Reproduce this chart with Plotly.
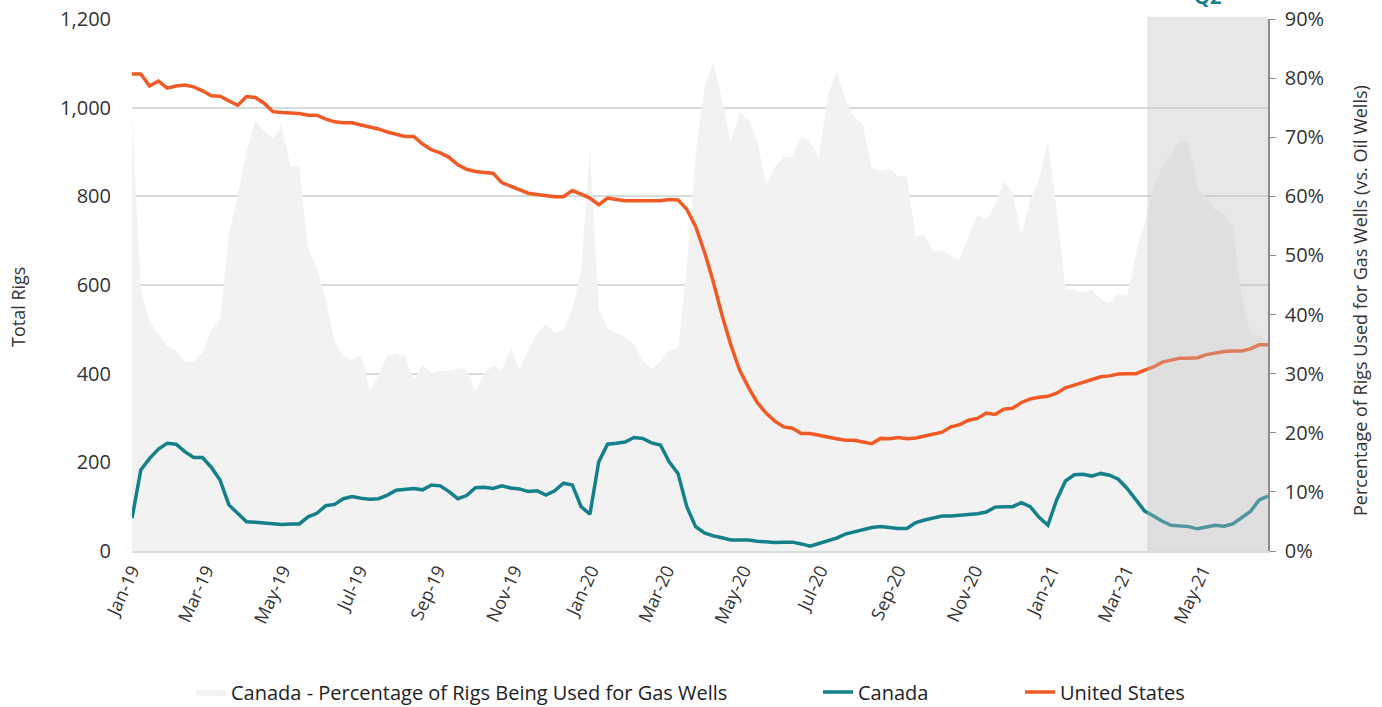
import pandas as pd
import plotly.graph_objects as go

# weekly rig counts, Jan 2019 - Jun 2021
start_date = "2019-01-04"
n_weeks = 130
dates = pd.date_range(start_date, periods=n_weeks, freq="7D")

us_rigs = [
    1076, 1076, 1049, 1060, 1044, 1049, 1051, 1047, 1038, 1027,
    1026, 1016, 1005, 1025, 1023, 1010, 991, 989, 988, 987,
    983, 983, 974, 968, 966, 966, 961, 957, 952, 945,
    941, 935, 935, 918, 905, 898, 888, 871, 861, 856,
    854, 852, 831, 823, 817, 807, 804, 802, 799, 799,
    813, 805, 796, 781, 796, 793, 790, 790, 790, 790,
    790, 793, 792, 771, 732, 675, 608, 532, 465, 408,
    369, 335, 311, 293, 280, 277, 265, 265, 262, 257,
    253, 250, 250, 246, 242, 254, 253, 256, 253, 255,
    259, 265, 268, 280, 285, 295, 299, 311, 308, 320,
    322, 335, 343, 347, 349, 356, 368, 374, 380, 388,
    393, 395, 399, 400, 400, 408, 415, 426, 430, 435,
    435, 436, 443, 447, 450, 451, 451, 456, 465, 465,
]

canada_rigs = [
    74, 183, 209, 230, 243, 241, 224, 211, 211, 189,
    160, 104, 85, 66, 65, 64, 62, 60, 61, 61,
    77, 85, 102, 105, 118, 123, 119, 117, 118, 126,
    137, 139, 141, 138, 149, 147, 134, 118, 125, 143,
    144, 141, 147, 142, 140, 134, 136, 126, 136, 153,
    149, 100, 83, 201, 241, 243, 246, 256, 254, 244,
    239, 201, 175, 100, 55, 41, 34, 30, 25, 25,
    25, 22, 20, 19, 20, 20, 16, 11, 17, 23,
    29, 38, 43, 46, 53, 55, 53, 51, 51, 64,
    70, 74, 79, 79, 81, 83, 84, 88, 99, 100,
    100, 109, 100, 76, 58, 115, 158, 172, 173, 169,
    175, 171, 162, 141, 117, 90, 79, 67, 58, 56,
    55, 50, 54, 58, 56, 61, 75, 89, 115, 124,
]

# share of Canadian rigs drilling for gas (%)
canada_gas_pct = [
    73.5, 44.2, 38.8, 36.8, 34.6, 34.0, 32.0, 32.0, 33.5, 37.4,
    39.1, 53.5, 60.2, 67.6, 72.6, 71.1, 69.8, 72.1, 65.0, 65.0,
    51.2, 47.8, 42.5, 35.4, 32.9, 32.3, 33.2, 27.2, 29.8, 33.0,
    33.4, 32.8, 28.9, 31.5, 30.1, 30.5, 30.5, 30.9, 30.6, 27.0,
    30.1, 31.3, 30.6, 34.3, 30.7, 34.0, 36.8, 38.5, 36.9, 37.3,
    40.9, 47.3, 68.1, 40.9, 37.7, 36.8, 36.3, 34.9, 32.3, 30.7,
    32.0, 34.0, 34.3, 48.0, 67.0, 78.3, 82.7, 76.3, 69.2, 74.1,
    73.0, 69.5, 61.9, 65.0, 66.6, 66.6, 70.2, 69.2, 66.7, 76.9,
    81.1, 76.3, 73.5, 72.2, 64.7, 64.3, 64.7, 63.4, 63.3, 53.2,
    53.5, 50.6, 51.0, 49.9, 49.3, 53.2, 56.8, 56.1, 58.4, 62.5,
    60.6, 53.5, 59.4, 62.8, 69.4, 57.7, 44.3, 44.2, 43.7, 44.3,
    42.6, 41.9, 43.5, 43.2, 50.4, 55.4, 61.6, 65.1, 67.0, 69.4,
    69.0, 61.1, 59.9, 57.6, 56.8, 54.6, 43.0, 36.5, 36.5, 35.4,
]

q2_start = "2021-03-21"
q2_label = "Q2"

tick_dates = pd.date_range("2019-01-01", "2021-05-01", freq="2MS") + pd.Timedelta(days=3)
tick_text = [d.strftime("%b-%y") for d in tick_dates]

TEAL = "#13808A"
ORANGE = "#F15A24"
FONT = "Open Sans, sans-serif"
W, H = 1382, 707
L, R, T, B = 132, 114, 19, 156
PW, PH = W - L - R, H - T - B

fig = go.Figure()

# area on the primary (right-hand, %) axis so the rig lines sit on top
fig.add_trace(go.Scatter(
    x=dates, y=canada_gas_pct,
    name="Canada - Percentage of Rigs Being Used for Gas Wells",
    mode="lines", line=dict(width=0, color="#F2F2F2"),
    fill="tozeroy", fillcolor="#F2F2F2",
    yaxis="y", legend="legend"
))

fig.add_trace(go.Scatter(
    x=dates, y=canada_rigs, name="Canada",
    mode="lines", line=dict(color=TEAL, width=3.5),
    yaxis="y2", legend="legend2"
))

fig.add_trace(go.Scatter(
    x=dates, y=us_rigs, name="United States",
    mode="lines", line=dict(color=ORANGE, width=3.5),
    yaxis="y2", legend="legend3"
))

# Q2 shading over everything
fig.add_shape(
    type="rect", xref="x", yref="paper",
    x0=q2_start, x1=dates[-1], y0=0, y1=1.004,
    fillcolor="#BDBDBD", opacity=0.36, line_width=0, layer="above"
)

q2_mid = pd.Timestamp(q2_start) + (dates[-1] - pd.Timestamp(q2_start)) / 2
fig.add_annotation(
    x=q2_mid, y=1.013, xref="x", yref="paper",
    text=f"<b>{q2_label}</b>", showarrow=False, yanchor="bottom",
    font=dict(size=20, color=TEAL, family=FONT)
)

# axis titles
fig.add_annotation(
    x=(18 - L) / PW, y=(H - B - 307) / PH, xref="paper", yref="paper",
    xanchor="center", yanchor="middle",
    text="Total Rigs", textangle=-90, showarrow=False,
    font=dict(size=18, color="#333333")
)
fig.add_annotation(
    x=(1360 - L) / PW, y=(H - B - 301) / PH, xref="paper", yref="paper",
    xanchor="center", yanchor="middle",
    text="Percentage of Rigs Used for Gas Wells (vs. Oil Wells)",
    textangle=-90, showarrow=False,
    font=dict(size=18, color="#333333")
)

leg = dict(orientation="h", xref="container", xanchor="left",
           yref="container", y=1 - 692 / H, yanchor="middle",
           font=dict(size=20, color="#222222"), bgcolor="rgba(0,0,0,0)")

fig.update_layout(
    width=W, height=H,
    margin=dict(l=L, r=R, t=T, b=B, autoexpand=False),
    paper_bgcolor="white", plot_bgcolor="white",
    font=dict(family=FONT, size=18, color="#333333"),
    showlegend=True,
    legend=dict(leg, x=(233 - 42) / W),
    legend2=dict(leg, x=(860 - 42) / W),
    legend3=dict(leg, x=(1062 - 42) / W),
    xaxis=dict(
        range=[dates[0], dates[-1]], automargin=False,
        tickvals=tick_dates, ticktext=tick_text, tickangle=-65,
        showgrid=False, showline=True, linecolor="#D5DDDC", linewidth=2,
        ticks="", tickfont=dict(size=18)
    ),
    yaxis2=dict(
        overlaying="y", side="left", automargin=False,
        range=[0, 1200], dtick=200, tickformat=",",
        showgrid=True, gridcolor="#D5DDDC", gridwidth=2,
        zeroline=False, showline=False, ticks="",
        ticklabelstandoff=20,
        tickfont=dict(size=20)
    ),
    yaxis=dict(
        side="right", automargin=False,
        range=[0, 90], dtick=10, ticksuffix="%",
        showgrid=False, zeroline=False,
        showline=True, linecolor="#8C8C8C", linewidth=1.5,
        ticks="outside", ticklen=6, tickcolor="#8C8C8C",
        ticklabelstandoff=5,
        tickfont=dict(size=20)
    ),
)

fig.write_html("out.html", config={"displayModeBar": False},
               post_script="document.body.style.margin='0';")
